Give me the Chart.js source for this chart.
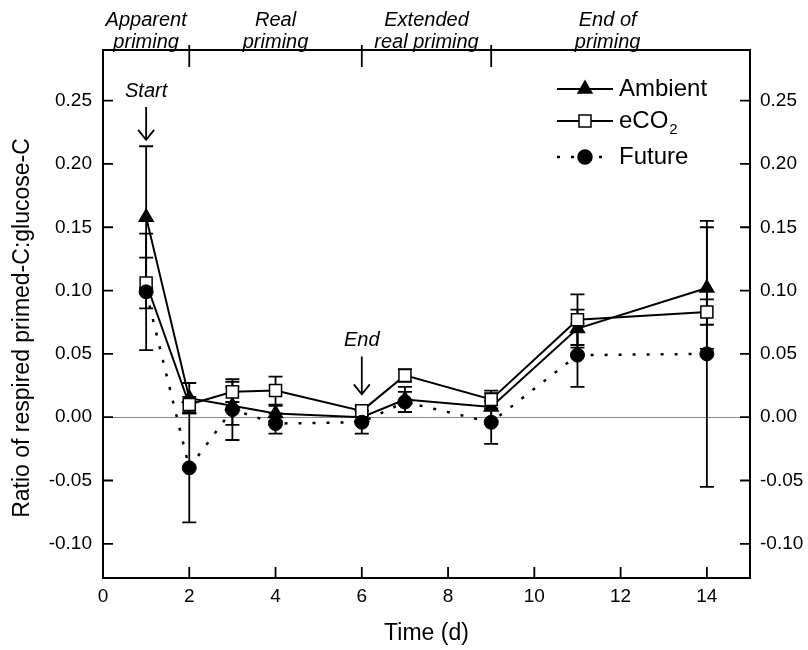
<!DOCTYPE html>
<html>
<head>
<meta charset="utf-8">
<script src="https://cdn.jsdelivr.net/npm/chart.js@4.4.1/dist/chart.umd.min.js"></script>
<style>
  html, body { margin: 0; background: #fff; }
  #wrap { width: 808px; height: 650px; position: relative; }
</style>
</head>
<body>
<div id="wrap"><canvas id="primingChart"></canvas></div>
<script>
// Sampling days
const days = [1, 2, 3, 4, 6, 7, 9, 11, 14];

// Mean ratio of respired primed-C to glucose-C and error bar half-widths
const ambient    = [0.158, 0.015, 0.009, 0.003, 0.000, 0.014, 0.008, 0.070, 0.102];
const ambientErr = [0.056, 0.012, 0.015, 0.006, 0.005, 0.010, 0.011, 0.015, 0.048];
const eco2       = [0.106, 0.010, 0.020, 0.021, 0.005, 0.033, 0.014, 0.077, 0.083];
const eco2Err    = [0.020, 0.006, 0.008, 0.011, 0.004, 0.005, 0.007, 0.020, 0.010];
const future     = [0.099, -0.040, 0.006, -0.005, -0.004, 0.012, -0.004, 0.049, 0.050];
const futureErr  = [0.046, 0.043, 0.024, 0.008, 0.009, 0.008, 0.017, 0.025, 0.105];

// Axis ticks
const xTicks = [0, 2, 4, 6, 8, 10, 12, 14];
const yTicks = [-0.10, -0.05, 0.00, 0.05, 0.10, 0.15, 0.20, 0.25];

// Priming phases shown above the plot
const phaseBounds = [2, 6, 9];
const phaseCentres = [1, 4, 7.5, 11.7];
const phaseLabels = [['Apparent', 'priming'], ['Real', 'priming'], ['Extended', 'real priming'], ['End of', 'priming']];

// Start / end arrows (day, text level, arrow from, arrow to)
const notes = [
    { label: 'Start', day: 1, textAt: 0.257, from: 0.245, to: 0.219 },
    { label: 'End',   day: 6, textAt: 0.061, from: 0.048, to: 0.018 }
];

const FONT = '"Liberation Sans", Arial, Helvetica, sans-serif';
Chart.defaults.font.family = FONT;
Chart.defaults.color = '#000';

function toPoints(vals) {
    return vals.map((v, i) => ({ x: days[i], y: v }));
}

function marker(ctx, style, x, y) {
    ctx.save();
    ctx.lineWidth = 1.5;
    ctx.strokeStyle = '#000';
    ctx.beginPath();
    if (style === 'triangle') {
        ctx.moveTo(x, y - 8);
        ctx.lineTo(x + 6.9, y + 4);
        ctx.lineTo(x - 6.9, y + 4);
        ctx.closePath();
        ctx.fillStyle = '#000';
    } else if (style === 'rect') {
        ctx.rect(x - 6, y - 6, 12, 12);
        ctx.fillStyle = '#fff';
    } else {
        ctx.arc(x, y, 7, 0, Math.PI * 2);
        ctx.fillStyle = '#000';
    }
    ctx.fill();
    ctx.stroke();
    ctx.restore();
}

function arrow(ctx, x, y1, y2) {
    ctx.beginPath();
    ctx.moveTo(x, y1);
    ctx.lineTo(x, y2);
    ctx.moveTo(x - 8, y2 - 10);
    ctx.lineTo(x, y2);
    ctx.lineTo(x + 8, y2 - 10);
    ctx.stroke();
}

const decorations = {
    id: 'decorations',
    beforeDatasetsDraw(chart) {
        const { ctx, chartArea: a, scales: { x, y } } = chart;
        ctx.save();
        // zero reference line
        const y0 = Math.round(y.getPixelForValue(0)) + 0.5;
        ctx.strokeStyle = '#8a8a8a';
        ctx.lineWidth = 1;
        ctx.beginPath();
        ctx.moveTo(a.left, y0);
        ctx.lineTo(a.right, y0);
        ctx.stroke();

        // error bars with caps
        ctx.strokeStyle = '#000';
        ctx.lineWidth = 1.8;
        [[ambient, ambientErr], [eco2, eco2Err], [future, futureErr]].forEach(([vals, errs]) => {
            vals.forEach((v, i) => {
                const px = x.getPixelForValue(days[i]);
                const top = y.getPixelForValue(v + errs[i]);
                const bot = y.getPixelForValue(v - errs[i]);
                ctx.beginPath();
                ctx.moveTo(px, top); ctx.lineTo(px, bot);
                ctx.moveTo(px - 7, top); ctx.lineTo(px + 7, top);
                ctx.moveTo(px - 7, bot); ctx.lineTo(px + 7, bot);
                ctx.stroke();
            });
        });
        ctx.restore();
    },
    afterDraw(chart) {
        const { ctx, chartArea: a, scales: { x, y } } = chart;
        ctx.save();
        ctx.strokeStyle = '#000';
        ctx.fillStyle = '#000';

        // frame
        ctx.lineWidth = 2;
        ctx.strokeRect(a.left, a.top, a.right - a.left, a.bottom - a.top);

        // inward ticks
        ctx.lineWidth = 1.8;
        ctx.beginPath();
        yTicks.forEach(v => {
            const py = y.getPixelForValue(v);
            ctx.moveTo(a.left, py); ctx.lineTo(a.left + 10, py);
            ctx.moveTo(a.right, py); ctx.lineTo(a.right - 10, py);
        });
        xTicks.filter(v => v > 0).forEach(v => {
            const px = x.getPixelForValue(v);
            ctx.moveTo(px, a.bottom); ctx.lineTo(px, a.bottom - 11);
        });
        phaseBounds.forEach(v => {
            const px = x.getPixelForValue(v);
            ctx.moveTo(px, a.top - 5); ctx.lineTo(px, a.top + 17);
        });
        ctx.stroke();

        // phase names
        ctx.font = 'italic 20px ' + FONT;
        ctx.textAlign = 'center';
        ctx.textBaseline = 'alphabetic';
        phaseLabels.forEach((lines, i) => {
            const px = x.getPixelForValue(phaseCentres[i]);
            ctx.fillText(lines[0], px, a.top - 24);
            ctx.fillText(lines[1], px, a.top - 2);
        });

        // start / end arrows
        ctx.textBaseline = 'middle';
        notes.forEach(n => {
            const px = x.getPixelForValue(n.day);
            ctx.fillText(n.label, px, y.getPixelForValue(n.textAt));
            arrow(ctx, px, y.getPixelForValue(n.from), y.getPixelForValue(n.to));
        });

        // legend
        const rows = [
            { label: 'Ambient', style: 'triangle', dash: [], y: 89 },
            { label: 'eCO', sub: '2', style: 'rect', dash: [], y: 121 },
            { label: 'Future', style: 'circle', dash: [3, 11], y: 157 }
        ];
        rows.forEach(r => {
            ctx.lineWidth = r.dash.length ? 2.5 : 2;
            ctx.setLineDash(r.dash);
            ctx.beginPath();
            ctx.moveTo(557, r.y); ctx.lineTo(613, r.y);
            ctx.stroke();
            ctx.setLineDash([]);
            marker(ctx, r.style, 585, r.y);
            ctx.font = '24px ' + FONT;
            ctx.textAlign = 'left';
            ctx.textBaseline = 'middle';
            ctx.fillText(r.label, 619, r.y);
            if (r.sub) {
                const w = ctx.measureText(r.label).width;
                ctx.font = '15px ' + FONT;
                ctx.fillText(r.sub, 620 + w, r.y + 9);
            }
        });

        // y axis title
        ctx.translate(23, 328);
        ctx.rotate(-Math.PI / 2);
        ctx.font = '23px ' + FONT;
        ctx.textAlign = 'center';
        ctx.textBaseline = 'middle';
        ctx.fillText('Ratio of respired primed-C:glucose-C', 0, 0);
        ctx.restore();
    }
};

const yScale = (position, width, pad) => ({
    type: 'linear',
    position: position,
    min: -0.127,
    max: 0.29,
    grid: { display: false, drawTicks: false },
    border: { display: false },
    afterBuildTicks: scale => { scale.ticks = yTicks.map(v => ({ value: v })); },
    afterFit: scale => { scale.width = width; },
    ticks: {
        padding: pad,
        font: { size: 19 },
        callback: v => v.toFixed(2)
    }
});

const ctx = document.getElementById('primingChart').getContext('2d');
const primingChart = new Chart(ctx, {
    type: 'line',
    data: {
        datasets: [{
            label: 'Ambient',
            data: toPoints(ambient),
            borderColor: '#000',
            borderWidth: 2,
            pointStyle: 'triangle',
            pointRadius: 8,
            pointBackgroundColor: '#000',
            pointBorderColor: '#000',
            pointBorderWidth: 1.5,
            order: 3
        }, {
            label: 'eCO2',
            data: toPoints(eco2),
            borderColor: '#000',
            borderWidth: 2,
            pointStyle: 'rect',
            pointRadius: 8.5,
            pointBackgroundColor: '#fff',
            pointBorderColor: '#000',
            pointBorderWidth: 1.5,
            order: 2
        }, {
            label: 'Future',
            data: toPoints(future),
            borderColor: '#000',
            borderWidth: 2.5,
            borderDash: [3, 11],
            pointStyle: 'circle',
            pointRadius: 7,
            pointBackgroundColor: '#000',
            pointBorderColor: '#000',
            pointBorderWidth: 1,
            order: 1
        }]
    },
    options: {
        responsive: true,
        maintainAspectRatio: false,
        animation: false,
        events: [],
        layout: { padding: { top: 50, left: 0, right: 0, bottom: 0 } },
        plugins: {
            legend: { display: false },
            tooltip: { enabled: false }
        },
        scales: {
            x: {
                type: 'linear',
                min: 0,
                max: 15,
                grid: { display: false, drawTicks: false },
                border: { display: false },
                afterBuildTicks: scale => { scale.ticks = xTicks.map(v => ({ value: v })); },
                afterFit: scale => { scale.height = 72; },
                ticks: { padding: 7, font: { size: 19 }, maxRotation: 0 },
                title: {
                    display: true,
                    text: 'Time (d)',
                    font: { size: 23 },
                    padding: { top: 0, bottom: 3 }
                }
            },
            y: yScale('left', 103, 11),
            y2: yScale('right', 58, 10)
        }
    },
    plugins: [decorations]
});
</script>
</body>
</html>
